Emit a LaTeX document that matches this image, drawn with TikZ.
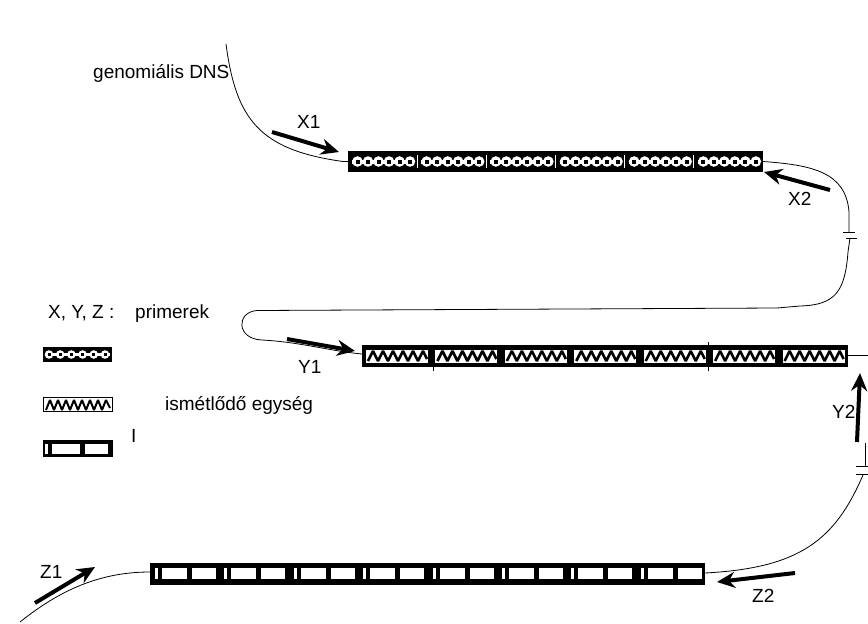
\documentclass[tikz,border=0pt]{standalone}
\usepackage{fontspec}
\setmainfont{Liberation Sans}
\usetikzlibrary{arrows.meta}
\begin{document}
\begin{tikzpicture}[x=1pt,y=-1pt,
  lbl/.style={inner sep=0pt, anchor=base west, font=\fontsize{19}{21}\selectfont},
  strand/.style={line width=0.8pt},
  primer/.style={line width=4pt, -{Stealth[length=18pt,width=16pt,inset=6pt]}},
  tick/.style={line width=0.9pt}
  ]
\useasboundingbox[fill=white] (0,0) rectangle (868,624);

% ---------- coordinates of bar ends ----------
\coordinate (xL) at (348,161.5);
\coordinate (xR) at (763,161.5);
\coordinate (yL) at (362,354);
\coordinate (yR) at (848,355);
\coordinate (zL) at (150,572);
\coordinate (zR) at (705,573);
\coordinate (dnsTop) at (226,44);
\coordinate (zStart) at (20,622);
\coordinate (yOut) at (868,355);

% ---------- X bar ----------
\fill (348,151) rectangle (763,172);
\foreach \k in {0,...,5}{
  \pgfmathsetmacro\u{348+\k*69.17}
  \fill[white] ({\u+4},159.5) rectangle ({\u+66},163.5);
  \foreach \j in {0,...,5}{
    \fill[white] ({\u+9.5+\j*10.5},161.5) circle (5.3);
  }
  \foreach \j in {0,...,5}{
    \fill[black] ({\u+7.5+\j*10.5},159.5) rectangle ({\u+11.5+\j*10.5},163.5);
  }
}
\foreach \k in {1,...,5}{
  \draw[white,line width=1.2pt] ({348+\k*69.17},155) -- ({348+\k*69.17},168);
}

% ---------- Y bar ----------
\fill (362,345) rectangle (848,367);
\foreach \k in {0,...,6}{
  \pgfmathsetmacro\u{362+\k*69.43}
  \fill[white] ({\u+4},349.5) rectangle ({\u+66},362.5);
  \draw[black,line width=2.6pt,line join=bevel]
    ({\u+6},361) -- ({\u+11},351) -- ({\u+16},361) -- ({\u+21},351) -- ({\u+26},361)
    -- ({\u+31},351) -- ({\u+36},361) -- ({\u+41},351) -- ({\u+46},361) -- ({\u+51},351)
    -- ({\u+56},361) -- ({\u+61},351) -- ({\u+65},359);
}
\draw[tick] (708,342) -- (708,371);
\draw[tick] (433,366) -- (433,371);

% ---------- Z bar ----------
\fill (150,563) rectangle (705,585);
\foreach \k in {0,...,7}{
  \pgfmathsetmacro\u{150+\k*69.4}
  \fill[white] ({\u+5},568) rectangle ({\u+8},579);
  \fill[white] ({\u+12},568) rectangle ({\u+37},579);
  \fill[white] ({\u+42},568) rectangle ({\u+66},579);
}

% ---------- strands ----------
\draw[strand] (dnsTop) .. controls (236,120) and (260,150) .. ([xshift=-5pt]xL) -- (xL);
\draw[strand] (xR) .. controls (812,165) and (846,172) .. (849,212) -- (849,232);
\draw[tick] (843,232) -- (855,232);
\draw[tick] (846,238) -- (857,238);
\draw[strand] (850,238) -- (848,252) .. controls (845,292) and (835,305) .. (800,306)
  -- (777,308) -- (257,310.5) .. controls (236,312) and (236,339) .. (262,340)
  .. controls (300,342) and (330,351) .. (yL);
\draw[strand] (yR) -- (yOut);
\draw[strand] (865,443) -- (865,466);
\draw[tick] (856,466) -- (868,466);
\draw[tick] (856,474) -- (868,474);
\draw[strand] (863,475) .. controls (835,540) and (800,568) .. (zR);
\draw[strand] (zStart) .. controls (60,590) and (100,572) .. (zL);

% ---------- primers ----------
\coordinate (x1a) at (272,132); \coordinate (x1b) at (339,152);
\coordinate (x2a) at (830,190); \coordinate (x2b) at (764,172);
\coordinate (y1a) at (287,339); \coordinate (y1b) at (355,351);
\coordinate (y2a) at (857,442); \coordinate (y2b) at (860,373);
\coordinate (z1a) at (35,603);  \coordinate (z1b) at (95,567);
\coordinate (z2a) at (795,573); \coordinate (z2b) at (717,582);
\draw[primer] (x1a) -- (x1b);
\draw[primer] (x2a) -- (x2b);
\draw[primer] (y1a) -- (y1b);
\draw[primer] (y2a) -- (y2b);
\draw[primer] (z1a) -- (z1b);
\draw[primer] (z2a) -- (z2b);

% ---------- labels ----------
\node[lbl] (dns) at (93,78) {genomiális DNS};
\node[lbl] (lx1) at (297,128) {X1};
\node[lbl] (lx2) at (788,205) {X2};
\node[lbl] (ly1) at (298,373) {Y1};
\node[lbl] (ly2) at (832,418) {Y2};
\node[lbl] (lz1) at (40,578) {Z1};
\node[lbl] (lz2) at (752,602) {Z2};

% ---------- legend ----------
\node[lbl] (lxyz) at (48,318) {X, Y, Z :};
\node[lbl] (lprim) at (135,318) {primerek};
\node[lbl] (lism) at (165,410) {ismétlődő egység};
\node[lbl] (lI) at (131,442) {I};

% X legend
\fill (43,347) rectangle (112,362);
\fill[white] (45,353) rectangle (110,356);
\foreach \j in {0,...,5}{
  \fill[white] ({49+\j*11.2},354.5) circle (4.3);
}
\foreach \j in {0,...,5}{
  \fill[black] ({47.5+\j*11.2},353) rectangle ({50.5+\j*11.2},356);
}
% Y legend
\draw[line width=1pt,fill=white] (43.5,397.5) rectangle (112.5,411.5);
\draw[black,line width=2pt,line join=bevel]
  (46,410) -- (50,400) -- (54,410) -- (58,400) -- (62,410) -- (66,400) -- (70,410)
  -- (74,400) -- (78,410) -- (82,400) -- (86,410) -- (90,400) -- (94,410) -- (98,400)
  -- (102,410) -- (106,400) -- (110,408);
% Z legend
\fill (43,440) rectangle (113,457);
\fill[white] (45,443.5) rectangle (47.5,453.5);
\fill[white] (52,443.5) rectangle (80,453.5);
\fill[white] (85,443.5) rectangle (108,453.5);
\end{tikzpicture}
\end{document}
